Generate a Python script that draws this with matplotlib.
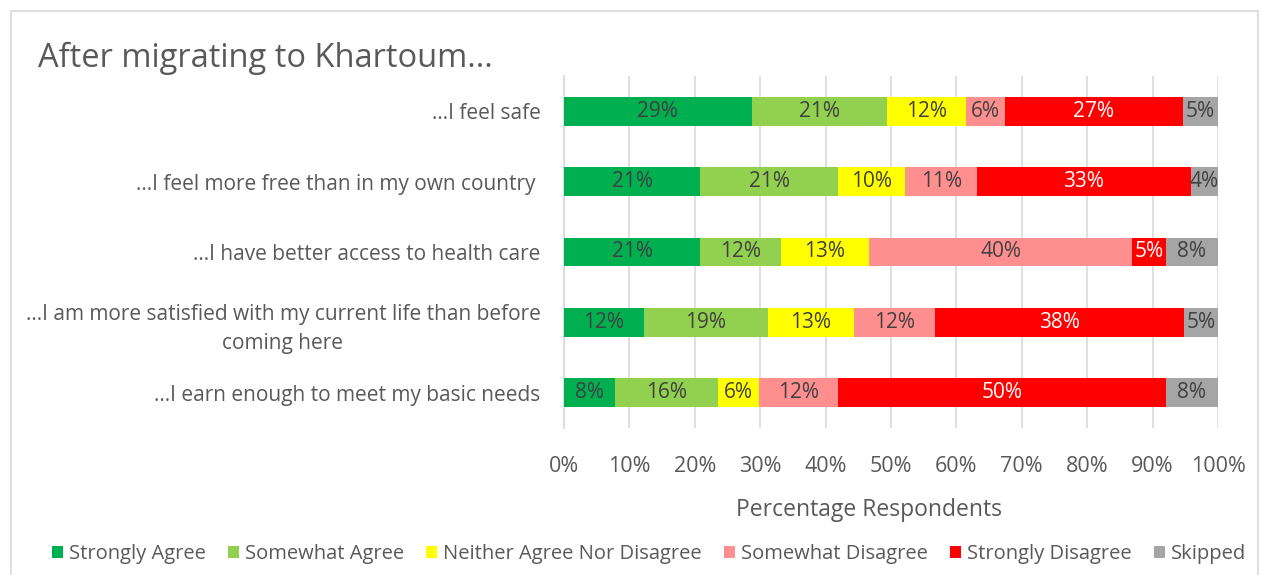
import matplotlib.pyplot as plt
import matplotlib.patches as mpatches
import numpy as np

plt.rcParams['font.family'] = ['Open Sans', 'DejaVu Sans']

# Survey statements (top to bottom) and response shares in percent
statements = [
    '\u2026I feel safe',
    '\u2026I feel more free than in my own country ',
    '\u2026I have better access to health care',
    '\u2026I am more satisfied with my current life than before\ncoming here',
    '\u2026I earn enough to meet my basic needs',
]
responses = ['Strongly Agree', 'Somewhat Agree', 'Neither Agree Nor Disagree',
             'Somewhat Disagree', 'Strongly Disagree', 'Skipped']

strongly_agree = [28.7, 20.8, 20.8, 12.2, 7.8]
somewhat_agree = [20.7, 21.1, 12.4, 19.0, 15.8]
neither = [12.0, 10.3, 13.4, 13.1, 6.2]
somewhat_disagree = [6.0, 11.0, 40.3, 12.4, 12.1]
strongly_disagree = [27.2, 32.6, 5.1, 38.1, 50.1]
skipped = [5.4, 4.2, 8.0, 5.2, 8.0]

series = [strongly_agree, somewhat_agree, neither,
          somewhat_disagree, strongly_disagree, skipped]
colors = ['#00B050', '#92D050', '#FFFF00', '#FF8F8F', '#FF0000', '#A5A5A5']
label_colors = ['#404040', '#404040', '#404040', '#404040', 'white', '#404040']

TEXT = '#595959'
GRID = '#D9D9D9'

W, H = 1262, 575
fig = plt.figure(figsize=(W / 100, H / 100), dpi=100)

# outer chart border (open at the bottom edge)
fig.patches.append(mpatches.Rectangle((11 / W, -0.05), 1247 / W, 1.05 - 11 / H,
                                      transform=fig.transFigure, fill=False,
                                      edgecolor=GRID, linewidth=1.2))

ax = fig.add_axes([564 / W, 1 - 428 / H, 654 / W, 352 / H])

y = np.arange(len(statements))
left = np.zeros(len(statements))
bars_all = []
for vals, col, name, lc in zip(series, colors, responses, label_colors):
    vals = np.array(vals)
    bars = ax.barh(y, vals, left=left, height=0.41, color=col, label=name,
                   edgecolor='none', zorder=3)
    for yi, l, v in zip(y, left, vals):
        ax.text(l + v / 2, yi, f'{v:.0f}%', ha='center', va='center',
                fontsize=15, color=lc, zorder=4)
    bars_all.append(bars)
    left += vals

ax.set_xlim(0, 100)
ax.set_ylim(len(statements) - 0.5, -0.5)
ax.set_xticks(np.arange(0, 101, 10))
ax.set_xticklabels([f'{t}%' for t in range(0, 101, 10)], fontsize=15.5, color=TEXT)
ax.set_yticks(y)
ax.set_yticklabels(statements, fontsize=15, color=TEXT)
for lbl in ax.get_yticklabels():
    lbl.set_multialignment('center')
    lbl.set_linespacing(1.5)
ax.tick_params(axis='x', length=0, pad=20)
ax.tick_params(axis='y', length=0, pad=17)
ax.grid(axis='x', color=GRID, linewidth=1.2, zorder=0)
for s in ['top', 'right', 'bottom']:
    ax.spines[s].set_visible(False)
ax.spines['left'].set_color(GRID)
ax.spines['left'].set_linewidth(1.2)

fig.text(38 / W, 1 - 58 / H, 'After migrating to Khartoum...', fontsize=23.5,
         color=TEXT, ha='left', va='center')
fig.text(869 / W, 1 - 510 / H, 'Percentage Respondents', fontsize=16.5,
         color=TEXT, ha='center', va='center')

fig.legend(handles=bars_all, labels=responses, loc='center',
           bbox_to_anchor=(649 / W, 1 - 554 / H), ncol=6, frameon=False,
           fontsize=14.5, labelcolor=TEXT, handlelength=0.55, handleheight=0.55,
           handletextpad=0.3, columnspacing=1.1)

fig.savefig('out.png', dpi=100)
